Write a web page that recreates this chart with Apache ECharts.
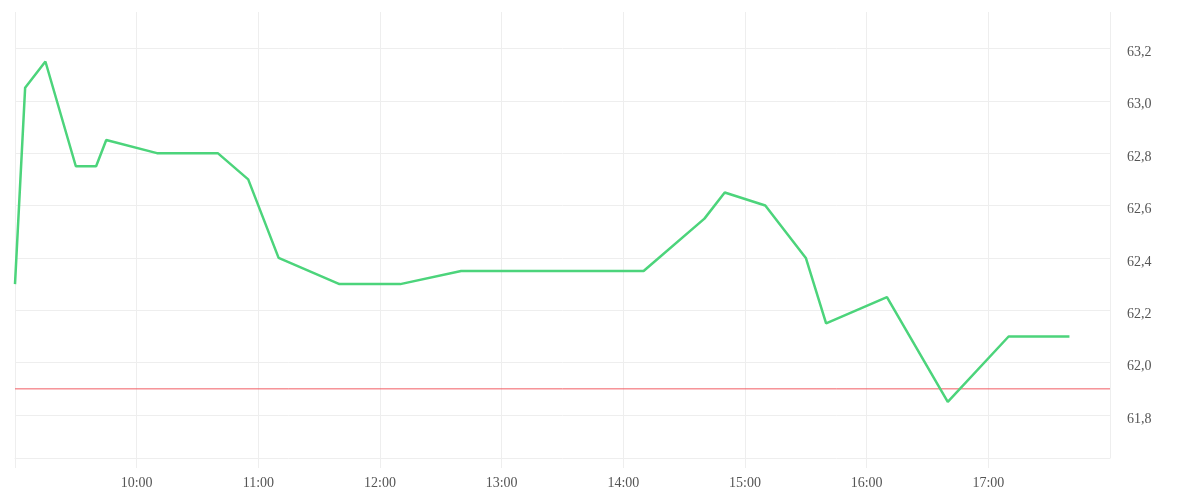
<!DOCTYPE html>
<html>
<head>
<meta charset="utf-8">
<script src="https://cdn.jsdelivr.net/npm/echarts@6/dist/echarts.min.js"></script>
<style>
html,body{margin:0;padding:0;background:#fff;}
#c{width:1200px;height:500px;}
</style>
</head>
<body>
<div id="c"></div>
<script>
// Data
var times = ['09:00','09:05','09:15','09:30','09:40','09:45','10:10','10:40','10:55','11:10','11:40','12:10','12:40','14:10','14:40','14:50','15:10','15:30','15:40','16:10','16:40','17:10','17:40'];
var prices = [62.3,63.05,63.15,62.75,62.75,62.85,62.8,62.8,62.7,62.4,62.3,62.3,62.35,62.35,62.55,62.65,62.6,62.4,62.15,62.25,61.85,62.1,62.1];
var referenceLevel = 61.9;
var dayStart = '09:00';
var dayEnd = '18:00';
var datePrefix = '2024-01-02T';

var seriesData = times.map(function(t, i){ return [datePrefix + t + ':00', prices[i]]; });
var minTime = new Date(datePrefix + dayStart + ':00').getTime();
var maxTime = new Date(datePrefix + dayEnd + ':00').getTime();
var refData = [[minTime, referenceLevel], [maxTime, referenceLevel]];

var chart = echarts.init(document.getElementById('c'), null, {renderer:'canvas'});
var fontFam = '"Liberation Serif", "DejaVu Serif", serif';
chart.setOption({
  animation:false,
  backgroundColor:'#ffffff',
  grid:{left:15, right:90, top:12, bottom:42, containLabel:false, outerBoundsMode:'none'},
  xAxis:{
    type:'time',
    min: minTime,
    max: maxTime,
    minInterval:3600*1000,
    maxInterval:3600*1000,
    splitNumber:9,
    axisLine:{show:true, lineStyle:{color:'#eeeeee', width:1}},
    axisTick:{show:true, length:10, lineStyle:{color:'#eeeeee'}},
    splitLine:{show:true, lineStyle:{color:'#eeeeee', width:1}},
    axisLabel:{
      show:true, color:'#555', fontFamily:fontFam, fontSize:14, margin:18,
      showMinLabel:false, showMaxLabel:false,
      formatter:function(v){
        if (v <= minTime || v >= maxTime) return '';
        var d=new Date(v); var h=d.getHours(), m=d.getMinutes();
        return (h<10?'0':'')+h+':'+(m<10?'0':'')+m;
      }
    }
  },
  yAxis:{
    type:'value',
    position:'right',
    min:61.636,
    max:63.339,
    splitNumber:8,
    minInterval:0.2,
    maxInterval:0.2,
    axisLine:{show:false},
    axisTick:{show:false},
    splitLine:{show:true, showMinLine:false, showMaxLine:false, lineStyle:{color:'#eeeeee', width:1}},
    axisLabel:{
      color:'#555', fontFamily:fontFam, fontSize:14, margin:17,
      verticalAlign:'top', lineHeight:8,
      showMinLabel:false, showMaxLabel:false,
      formatter:function(v){ return v.toFixed(1).replace('.', ','); }
    }
  },
  series:[{
    type:'line',
    data:refData,
    symbol:'none',
    silent:true,
    z:1,
    lineStyle:{color:'#f25c63', width:1},
    itemStyle:{color:'#f25c63'}
  },{
    type:'line',
    data:seriesData,
    symbol:'none',
    z:2,
    lineStyle:{color:'#4cd47b', width:2.5},
    itemStyle:{color:'#4cd47b'}
  }]
});
</script>
</body>
</html>
